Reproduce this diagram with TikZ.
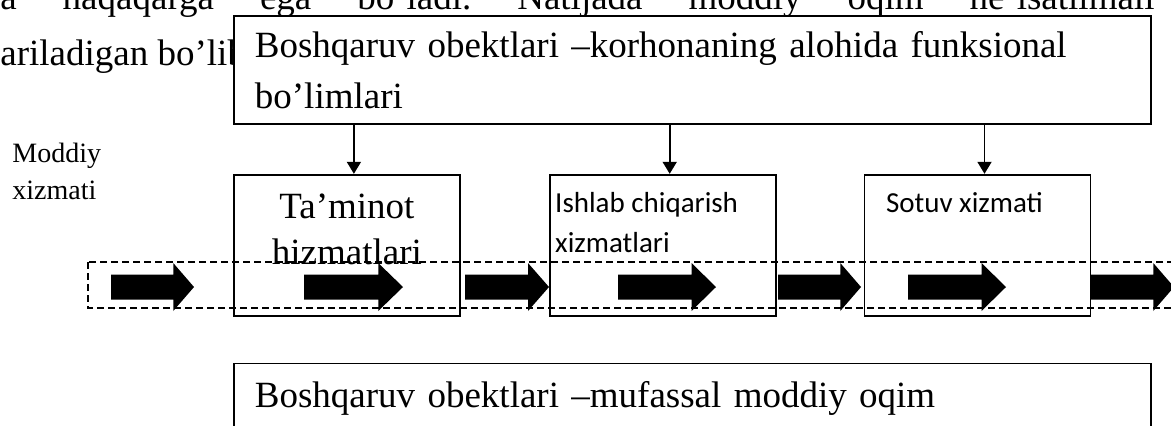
\documentclass[tikz,border=0pt]{standalone}
\usepackage{fontspec}
\setmainfont{Liberation Serif}
\newfontfamily\calibrifont{Carlito}
\usetikzlibrary{arrows.meta, positioning}
\frenchspacing

\begin{document}
\begin{tikzpicture}[
    x=0.5pt, y=-0.5pt,
    bgtext/.style={inner sep=0pt, font=\fontsize{18.5}{25.5}\selectfont},
    unitbox/.style={rectangle, draw, fill=white, line width=0.9pt, text width=437.5pt, inner xsep=10.5pt, minimum height=54pt, align=left, font=\fontsize{18.5}{25.5}\selectfont},
    flowbox/.style={unitbox, inner ysep=0pt, text height=22pt, text depth=32pt},
    svcbox/.style={rectangle, draw, line width=0.9pt, minimum width=113pt, minimum height=70.5pt},
    svcserif/.style={inner sep=0pt, align=center, font=\fontsize{18.5}{23}\selectfont},
    svcsans/.style={inner sep=0pt, align=left, font=\calibrifont\fontsize{14.5}{20}\selectfont},
    sidetext/.style={inner sep=0pt, align=left, font=\fontsize{14}{18.5}\selectfont},
    band/.style={dash pattern=on 3.5pt off 2pt, line width=0.8pt},
    blockarrow/.style={fill=black},
    arrow/.style={-{Triangle[length=6pt, width=7pt]}, line width=0.9pt}
]

\useasboundingbox (0,0) rectangle (1171,425);

\node[bgtext, anchor=base west] (prevline) at (0,9) {\makebox[577pt][s]{a haqaqarga ega bo’ladi. Natijada moddiy oqim ne’isatilmaii}};
\node[bgtext, anchor=base west] (prevtail) at (0,65) {ariladigan bo’lib};

\node[unitbox, anchor=north west] (units) at (233,15) {Boshqaruv obektlari –korhonaning alohida funksional\\bo’limlari};

\node[sidetext, anchor=north west] (side) at (12,143) {Moddiy\\xizmati};

\node[svcbox, below=24.5pt of units.south west, anchor=north west] (supply) {};
\node[svcbox, right=44pt of supply] (prod) {};
\node[svcbox, right=43.5pt of prod] (sales) {};

\node[svcserif, below=9.85pt of supply.north] (supplytxt) {Ta’minot\\hizmatlari};
\node[svcsans, below right=9pt and 3pt of prod.north west] (prodtxt) {Ishlab chiqarish\\xizmatlari};
\node[svcsans, below right=9.25pt and 11pt of sales.north west] (salestxt) {Sotuv xizmati};

\node[flowbox, below=23pt of supply.south west, anchor=north west] (flow) {Boshqaruv obektlari –mufassal moddiy oqim};

\draw[band] (88,262) rectangle (1190,308);

\foreach \tx/\len in {111/83, 304/99, 465/84, 618/98, 778/83, 908/98, 1091/83}
  \fill[blockarrow] (\tx,274.5) -- (\tx+0.75*\len,274.5) -- (\tx+0.75*\len,263) -- (\tx+\len,287) -- (\tx+0.75*\len,311) -- (\tx+0.75*\len,299.5) -- (\tx,299.5) -- cycle;

\foreach \svc in {supply, prod, sales}
  \draw[arrow] ([xshift=3.5pt]\svc.north |- units.south) -- ([xshift=3.5pt]\svc.north);

\end{tikzpicture}
\end{document}
